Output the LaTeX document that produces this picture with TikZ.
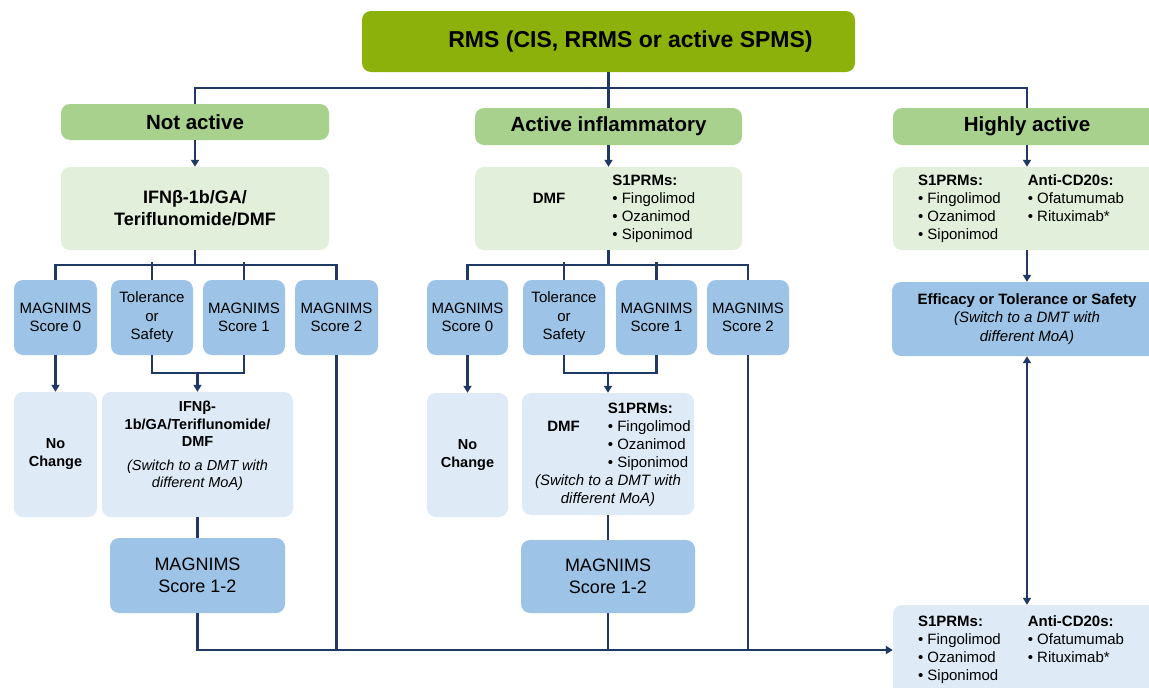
\documentclass[tikz,border=0pt]{standalone}
\usepackage{fontspec}
\setmainfont{Liberation Sans}
\usetikzlibrary{arrows.meta}
\definecolor{topgreen}{HTML}{8CB10A}
\definecolor{hdrgreen}{HTML}{A9D18E}
\definecolor{lgreen}{HTML}{E2EFDA}
\definecolor{mblue}{HTML}{9DC3E6}
\definecolor{lblue}{HTML}{DEEBF7}
\definecolor{navy}{HTML}{1F3864}
\newcommand{\fs}[2]{\fontsize{#1}{#2}\selectfont}
\begin{document}
\begin{tikzpicture}[x=1pt,y=-1pt,
  box/.style={rounded corners=9pt, inner sep=0pt, align=center, text=black},
  topbox/.style={box, fill=topgreen, font=\fs{23}{27}\bfseries},
  hdrbox/.style={box, fill=hdrgreen, font=\fs{20.5}{24}\bfseries},
  gbox/.style={box, fill=lgreen, font=\fs{15}{18}},
  sbox/.style={box, fill=mblue, font=\fs{15}{18.5}},
  lbox/.style={box, fill=lblue, font=\fs{14.5}{17.5}},
  ln/.style={draw=navy, line width=2.1pt},
  arr/.style={ln, -{Triangle[width=8pt,length=7pt]}},
  darr/.style={ln, {Triangle[width=8pt,length=7pt]}-{Triangle[width=8pt,length=7pt]}},
]
\clip (0,0) rectangle (1149,688);
\fill[white] (0,0) rectangle (1149,688);

% top
\node[topbox, minimum width=493pt, minimum height=61pt] (top) at (608.5,41.5) {\hspace*{44pt}RMS (CIS, RRMS or active SPMS)};

% headers
\node[hdrbox, minimum width=268pt, minimum height=36pt] (na) at (195,122) {Not active};
\node[hdrbox, minimum width=267pt, minimum height=37pt] (ai) at (608.5,126.5) {Active inflammatory};
\node[hdrbox, minimum width=268pt, minimum height=37pt] (ha) at (1027,126.5) {Highly active};

% level 2
\node[gbox, minimum width=268pt, minimum height=83pt, font=\fs{18}{22}\bfseries] (ifn) at (195,208.5) {IFNβ-1b/GA/\\Teriflunomide/DMF};
\node[gbox, minimum width=267pt, minimum height=83pt] (acb) at (608.5,208.5) {\hspace*{11pt}\begin{tabular}{@{}l@{\hspace{47pt}}l@{}}
 & \bfseries S1PRMs:\\
 \bfseries DMF & • Fingolimod\\
 & • Ozanimod\\
 & • Siponimod
\end{tabular}};
\node[gbox, minimum width=268pt, minimum height=83pt] (hab) at (1027,208.5) {\begin{tabular}{@{}l@{\hspace{27pt}}l@{}}
 \bfseries S1PRMs: & \bfseries Anti-CD20s:\\
 • Fingolimod & • Ofatumumab\\
 • Ozanimod & • Rituximab*\\
 • Siponimod &
\end{tabular}\hspace*{12pt}};

% left group scores
\node[sbox, minimum width=83pt, minimum height=75pt] (s0L) at (55.5,317.5) {MAGNIMS\\Score 0};
\node[sbox, minimum width=82pt, minimum height=75pt] (tolL) at (152,317.5) {Tolerance\\or\\Safety};
\node[sbox, minimum width=82pt, minimum height=75pt] (s1L) at (244,317.5) {MAGNIMS\\Score 1};
\node[sbox, minimum width=83pt, minimum height=75pt] (s2L) at (336.5,317.5) {MAGNIMS\\Score 2};

% middle group scores
\node[sbox, minimum width=81pt, minimum height=75pt] (s0M) at (467.5,317.5) {MAGNIMS\\Score 0};
\node[sbox, minimum width=82pt, minimum height=75pt] (tolM) at (564,317.5) {Tolerance\\or\\Safety};
\node[sbox, minimum width=81pt, minimum height=75pt] (s1M) at (656.5,317.5) {MAGNIMS\\Score 1};
\node[sbox, minimum width=82pt, minimum height=75pt] (s2M) at (748,317.5) {MAGNIMS\\Score 2};

% left lower
\node[lbox, minimum width=83pt, minimum height=125pt, font=\fs{14.5}{18}\bfseries] (ncL) at (55.5,454.5) {No\\Change};
\node[lbox, minimum width=191pt, minimum height=125pt] (swL) at (197.5,454.5) {{\bfseries IFNβ-}\\{\bfseries 1b/GA/Teriflunomide/}\\{\bfseries DMF}\\[6pt]{\itshape (Switch to a DMT with}\\{\itshape different MoA)}\\[3pt]};
\node[sbox, minimum width=175pt, minimum height=75pt, font=\fs{18}{22}] (mL) at (197.5,575.5) {MAGNIMS\\Score 1-2};

% middle lower
\node[lbox, minimum width=81pt, minimum height=124pt, font=\fs{14.5}{18}\bfseries] (ncM) at (467.5,455) {No\\Change};
\node[lbox, minimum width=172pt, minimum height=122pt, font=\fs{15}{18}] (swM) at (608,454) {\hspace*{22pt}\begin{tabular}[b]{@{}l@{\hspace{28pt}}l@{}}
 & \bfseries S1PRMs:\\
 \bfseries DMF & • Fingolimod\\
 & • Ozanimod\\
 & • Siponimod
\end{tabular}\\
{\itshape (Switch to a DMT with}\\{\itshape different MoA)}};
\node[sbox, minimum width=174pt, minimum height=73pt, font=\fs{18}{22}] (mM) at (608,576.5) {MAGNIMS\\Score 1-2};

% right
\node[sbox, minimum width=270pt, minimum height=74pt] (eff) at (1027,319) {{\bfseries Efficacy or Tolerance or Safety}\\{\itshape (Switch to a DMT with}\\{\itshape different MoA)}};
\node[lbox, minimum width=268pt, minimum height=90pt, font=\fs{15}{18}] (fin) at (1027,650) {\begin{tabular}{@{}l@{\hspace{27pt}}l@{}}
 \bfseries S1PRMs: & \bfseries Anti-CD20s:\\
 • Fingolimod & • Ofatumumab\\
 • Ozanimod & • Rituximab*\\
 • Siponimod &
\end{tabular}\hspace*{12pt}};

% connectors top
\draw[ln] (top.south) -- (ai.north);
\draw[ln] (na.north) -- ++(0,-16) -| (ha.north);
\draw[arr] (na) -- (ifn);
\draw[arr] (ai) -- (acb);
\draw[arr] (ha) -- (hab);

% left bus
\draw[ln] (ifn.south) -- ++(0,15);
\draw[ln] (s0L.north) -- ++(0,-15) -| (s2L.north);
\draw[ln] (tolL.north) -- ++(0,-18);
\draw[ln] (s1L.north) -- ++(0,-18);
\draw[arr] (s0L) -- (ncL);
\draw[ln] (tolL.south) -- ++(0,18) -| (s1L.south);
\coordinate (cL) at (197.5,373);
\draw[arr] (cL) -- (swL.north);
\draw[ln] (swL) -- (mL);

% middle bus
\draw[ln] (acb.south) -- ++(0,15);
\draw[ln] (s0M.north) -- ++(0,-15) -| (s2M.north);
\draw[ln] (tolM.north) -- ++(0,-18);
\draw[ln] (s1M.north) -- ++(0,-18);
\draw[arr] (s0M) -- (ncM);
\draw[ln] (tolM.south) -- ++(0,18) -| (s1M.south);
\coordinate (cM) at (608,373);
\draw[arr] (cM) -- (swM.north);
\draw[ln] (swM) -- (mM);

% bottom bus
\draw[arr] (mL.south) |- (fin.west);
\draw[ln] (s2L.south) -- (s2L.south |- fin.west);
\draw[ln] (mM.south) -- (mM.south |- fin.west);
\draw[ln] (s2M.south) -- (s2M.south |- fin.west);

% right
\draw[arr] (hab) -- (eff);
\draw[darr] (eff) -- (fin);
\end{tikzpicture}
\end{document}
